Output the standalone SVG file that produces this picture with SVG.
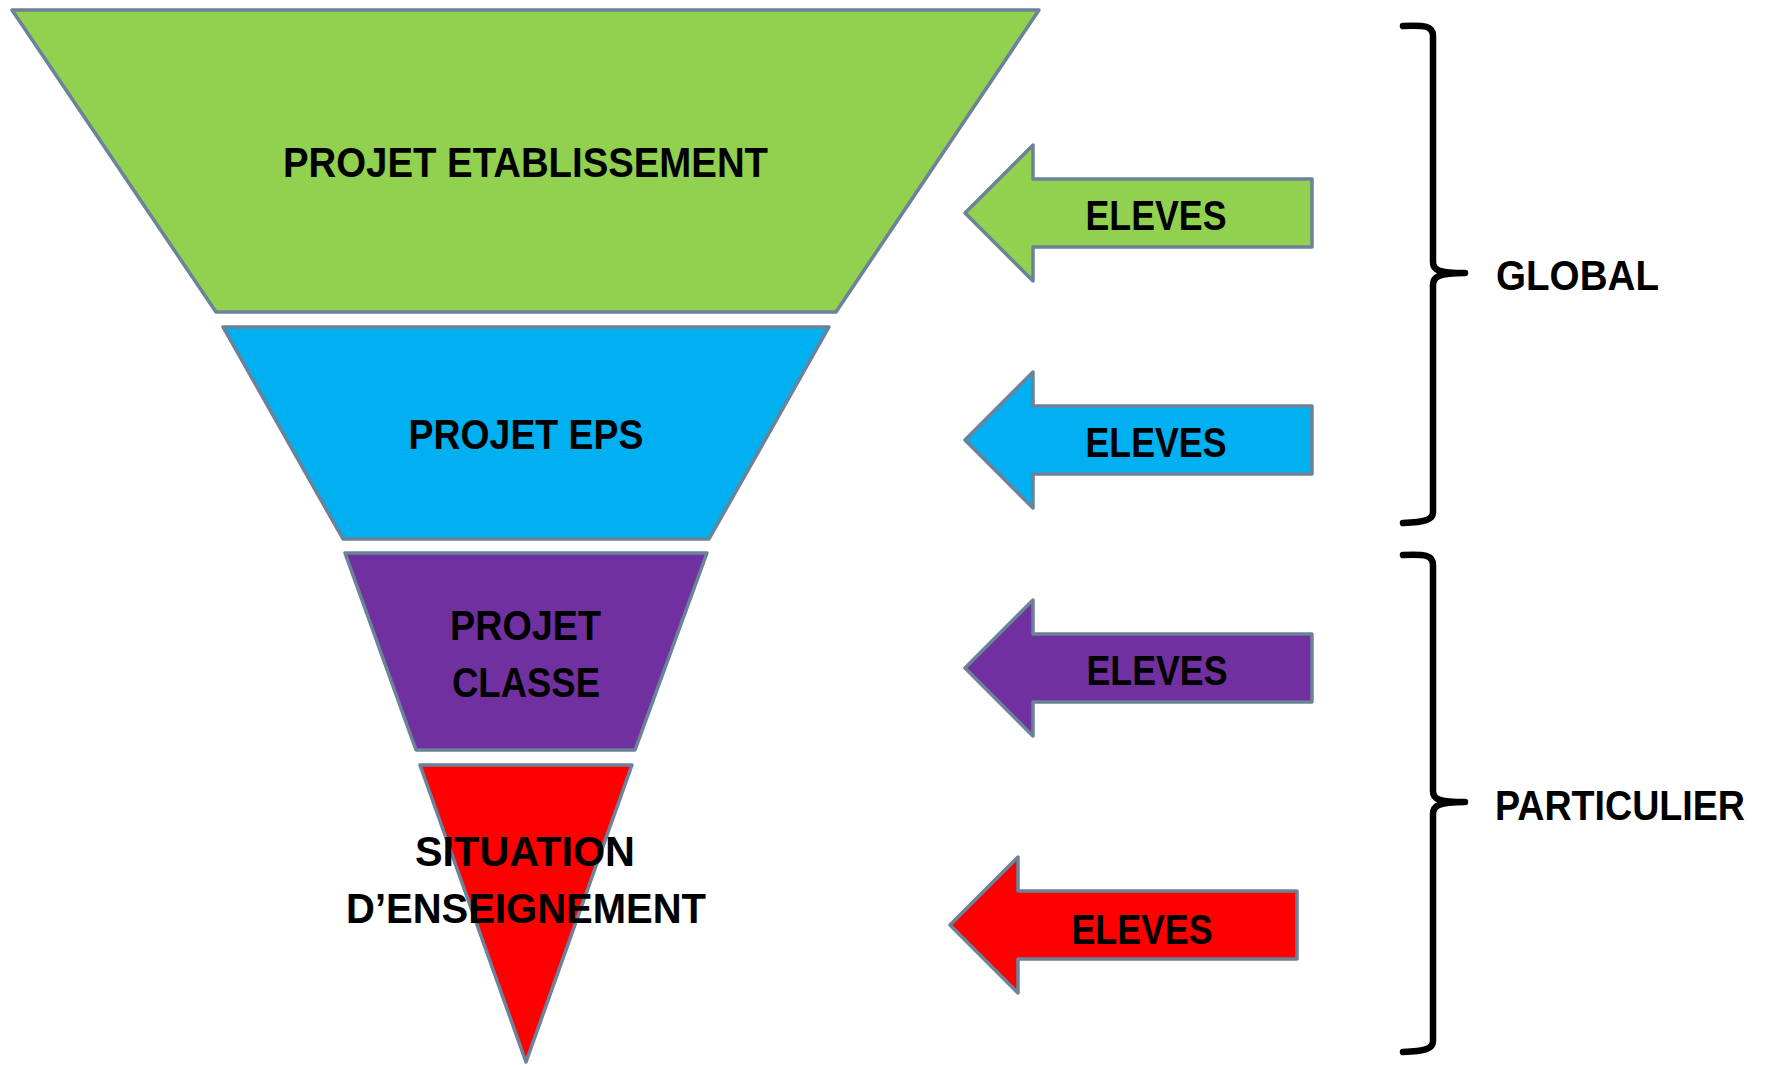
<svg xmlns="http://www.w3.org/2000/svg" width="1766" height="1065" viewBox="0 0 1766 1065">
<style>
.shape{stroke:#6B8298;stroke-width:3.5;stroke-linejoin:round}
.lbl{font-family:"Liberation Sans",Arial,sans-serif;font-weight:bold;font-size:42px;fill:#000;text-anchor:middle}
.side{font-family:"Liberation Sans",Arial,sans-serif;font-weight:bold;font-size:42px;fill:#000}
.brace{fill:none;stroke:#000;stroke-width:6.5;stroke-linecap:round;stroke-linejoin:round}
</style>
<rect width="1766" height="1065" fill="#fff"/>
<g id="projet-etablissement">
<polygon class="shape" fill="#92D050" points="12,10 1039,10 836,312 216,312"/>
<text class="lbl" x="525.5" y="177" textLength="485" lengthAdjust="spacingAndGlyphs">PROJET ETABLISSEMENT</text>
</g>
<g id="projet-eps">
<polygon class="shape" fill="#00B0F0" points="223,327 829,327 709,539 343,539"/>
<text class="lbl" x="526" y="449" textLength="235" lengthAdjust="spacingAndGlyphs">PROJET EPS</text>
</g>
<g id="projet-classe">
<polygon class="shape" fill="#7030A0" points="345,553 707,553 635,750 416,750"/>
<text class="lbl" x="525.5" y="640" textLength="151" lengthAdjust="spacingAndGlyphs">PROJET</text>
<text class="lbl" x="526" y="697" textLength="148" lengthAdjust="spacingAndGlyphs">CLASSE</text>
</g>
<g id="situation">
<polygon class="shape" fill="#FF0000" points="420,765 632,765 526,1062"/>
<text class="lbl" x="525" y="866" textLength="220" lengthAdjust="spacingAndGlyphs">SITUATION</text>
<text class="lbl" x="526" y="923" textLength="360" lengthAdjust="spacingAndGlyphs">D’ENSEIGNEMENT</text>
</g>
<g id="arrow-green">
<polygon class="shape" fill="#92D050" points="965,213 1033,145 1033,179 1312,179 1312,247 1033,247 1033,281"/>
<text class="lbl" x="1156" y="230" textLength="141" lengthAdjust="spacingAndGlyphs">ELEVES</text>
</g>
<g id="arrow-blue">
<polygon class="shape" fill="#00B0F0" points="965,440 1033,372 1033,406 1312,406 1312,474 1033,474 1033,508"/>
<text class="lbl" x="1156" y="457" textLength="141" lengthAdjust="spacingAndGlyphs">ELEVES</text>
</g>
<g id="arrow-purple">
<polygon class="shape" fill="#7030A0" points="965,668 1033,600 1033,634 1312,634 1312,702 1033,702 1033,736"/>
<text class="lbl" x="1157" y="685" textLength="141" lengthAdjust="spacingAndGlyphs">ELEVES</text>
</g>
<g id="arrow-red">
<polygon class="shape" fill="#FF0000" points="950,925 1018,857 1018,891 1297,891 1297,959 1018,959 1018,993"/>
<text class="lbl" x="1142" y="944" textLength="141" lengthAdjust="spacingAndGlyphs">ELEVES</text>
</g>
<g id="connectors">
<path class="brace" d="M1403,26 C1425,25 1433,26 1433,36 L1433,262 C1433,270 1438,273 1465,273 C1438,273 1433,277 1433,285 L1433,512 C1433,520 1425,522 1403,523"/>
<path class="brace" d="M1403,555 C1425,554 1433,555 1433,565 L1433,791 C1433,799 1438,802 1465,802 C1438,802 1433,806 1433,814 L1433,1041 C1433,1049 1425,1051 1403,1052"/>
</g>
<g id="global">
<text class="side" x="1496" y="290" textLength="163" lengthAdjust="spacingAndGlyphs">GLOBAL</text>
</g>
<g id="particulier">
<text class="side" x="1495" y="820" font-size="40" textLength="250" lengthAdjust="spacingAndGlyphs">PARTICULIER</text>
</g>
</svg>
